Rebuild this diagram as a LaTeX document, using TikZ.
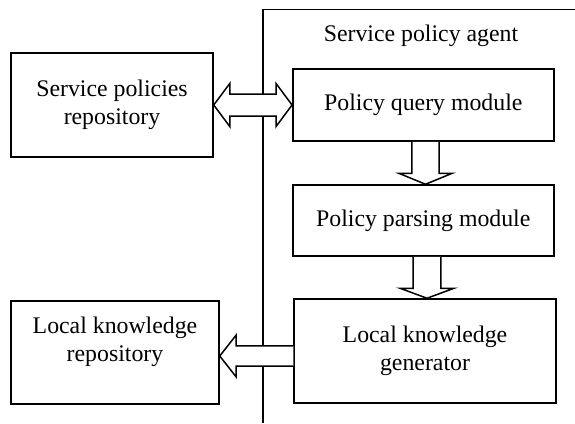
\documentclass[tikz,border=0pt]{standalone}
\usepackage{fontspec}
\setmainfont{Liberation Serif}
\usetikzlibrary{calc}
\begin{document}
\begin{tikzpicture}[x=1pt,y=-1pt,
  boxstyle/.style={draw,line width=1.5pt,fill=white,inner sep=0pt,align=center,font=\fontsize{23.8}{28}\selectfont},
  txt/.style={inner sep=0pt,align=center,font=\fontsize{23.8}{28}\selectfont},
  bigarrow/.style={draw,line width=1.5pt,fill=white,line join=miter},
  frameline/.style={line width=1.5pt}]
\useasboundingbox (0,0) rectangle (575,423);
% frame of the agent
\coordinate (ftop) at (263,9.5);
\coordinate (fright) at (575,9.5);
\coordinate (fbot) at (263,423);
\draw[frameline] (fright) -- (ftop) -- (fbot);
\node[txt] (agent) at (421,36) {Service policy agent};
% boxes
\node[boxstyle,minimum width=202pt,minimum height=104pt] (spr) at (112,105) {Service policies\\repository};
\node[boxstyle,minimum width=261pt,minimum height=72pt] (pqm) at (423.3,105) {Policy query module};
\node[boxstyle,minimum width=261pt,minimum height=71pt] (ppm) at (423.3,220.5) {Policy parsing module};
\node[boxstyle,minimum width=262pt,minimum height=104pt] (lkg) at (425,351) {Local knowledge\\generator};
\node[boxstyle,minimum width=208pt,minimum height=103pt] (lkr) at (115,352.3) {};
\node[txt] (lkrtext) at ($(lkr.center)+(0,-10)$) {Local knowledge\\repository};
% double arrow between repository and query module
\draw[bigarrow] (spr.east) -- ++(16,-21.5) -- ++(0,10.5) -- ($(pqm.west)+(-16,-11)$) -- ++(0,-10.5)
  -- (pqm.west) -- ++(-16,21.5) -- ++(0,-10.5) -- ($(spr.east)+(16,11)$) -- ++(0,10.5) -- cycle;
% down arrow 1
\coordinate (p1) at ($(pqm.south)+(2.2,0)$);
\coordinate (t1) at ($(ppm.north)+(2.2,0)$);
\draw[bigarrow] ($(p1)+(-13.6,0)$) -- ($(t1)+(-13.6,-11)$) -- ($(t1)+(-26.8,-11)$) -- (t1)
  -- ($(t1)+(26.8,-11)$) -- ($(t1)+(13.6,-11)$) -- ($(p1)+(13.6,0)$);
% down arrow 2
\coordinate (p2) at ($(ppm.south)+(3.6,0)$);
\coordinate (t2) at ($(lkg.north)+(2,0)$);
\draw[bigarrow] ($(p2)+(-13.9,0)$) -- ($(t2)+(-13.9,-10)$) -- ($(t2)+(-27,-10)$) -- (t2)
  -- ($(t2)+(27,-10)$) -- ($(t2)+(13.9,-10)$) -- ($(p2)+(13.9,0)$);
% left arrow from generator to local repository
\coordinate (t3) at ($(lkr.east)+(0,3.7)$);
\coordinate (p3) at ($(lkg.west)+(0,5)$);
\draw[bigarrow] ($(p3)+(0,-10.2)$) -- ($(t3)+(16.3,-10.2)$) -- ($(t3)+(16.3,-20.8)$) -- (t3)
  -- ($(t3)+(16.3,20.8)$) -- ($(t3)+(16.3,10.2)$) -- ($(p3)+(0,10.2)$);
\end{tikzpicture}
\end{document}
